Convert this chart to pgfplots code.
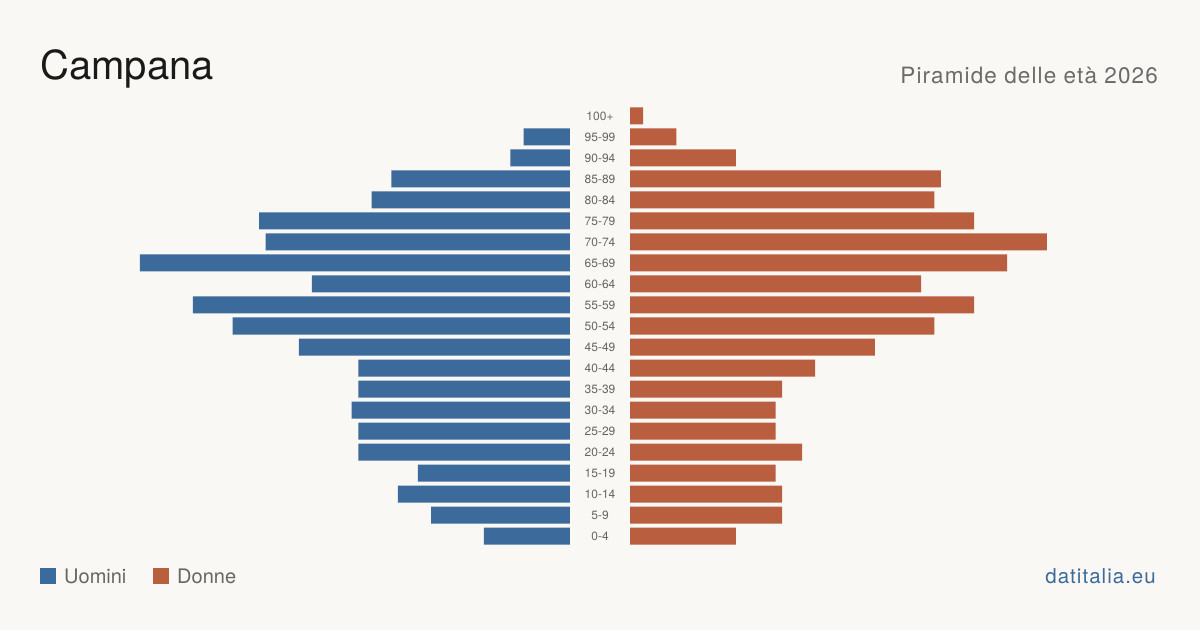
\documentclass[border=0pt]{standalone}
\usepackage{fontspec}
\setmainfont{TeX Gyre Heros}
\usepackage{pgfplots}
\pgfplotsset{compat=1.18}
\definecolor{bg}{HTML}{F9F8F4}
\definecolor{uomini}{HTML}{3B6A9B}
\definecolor{donne}{HTML}{B95E3E}
\definecolor{titlec}{HTML}{1A1A1A}
\definecolor{subc}{HTML}{6B6B6B}
\definecolor{labc}{HTML}{666666}
\begin{document}
\begin{tikzpicture}[x=1pt,y=1pt]
\fill[bg] (0,0) rectangle (1200,630);
\begin{axis}[at={(140pt,83.5pt)}, anchor=south west, scale only axis,
  width=430pt, height=441pt, xmin=0, xmax=65, x dir=reverse,
  ymin=-0.5, ymax=20.5, hide axis, xbar, bar width=17pt]
\addplot[fill=uomini, draw=none] coordinates {
(13,0) (21,1) (26,2) (23,3) (32,4) (32,5) (33,6) (32,7) (32,8) (41,9)
(51,10) (57,11) (39,12) (65,13) (46,14) (47,15) (30,16) (27,17) (9,18) (7,19)};
\end{axis}
\begin{axis}[at={(630pt,83.5pt)}, anchor=south west, scale only axis,
  width=430pt, height=441pt, xmin=0, xmax=65,
  ymin=-0.5, ymax=20.5, hide axis, xbar, bar width=17pt]
\addplot[fill=donne, draw=none] coordinates {
(16,0) (23,1) (23,2) (22,3) (26,4) (22,5) (22,6) (23,7) (28,8) (37,9)
(46,10) (52,11) (44,12) (57,13) (63,14) (52,15) (46,16) (47,17) (16,18) (7,19) (2,20)};
\end{axis}
\foreach \l [count=\i from 0] in {0-4,5-9,10-14,15-19,20-24,25-29,30-34,35-39,40-44,45-49,50-54,55-59,60-64,65-69,70-74,75-79,80-84,85-89,90-94,95-99,100+}
  \node[anchor=base, inner sep=0pt, text=labc, font=\fontsize{12}{14}\selectfont] at (600, 89.7+21*\i) {\l};
\node[anchor=base west, inner sep=0pt, text=titlec, font=\fontsize{40}{46}\selectfont] at (40,550) {Campana};
\node[anchor=base east, inner sep=0pt, text=subc, font=\fontsize{22.5}{26}\selectfont\addfontfeatures{LetterSpace=5}] at (1158,546) {Piramide delle età 2026};
\fill[uomini] (40,46) rectangle (56,62);
\node[anchor=base west, inner sep=0pt, text=labc, font=\fontsize{20}{24}\selectfont] at (64,47) {Uomini};
\fill[donne] (153,46) rectangle (169,62);
\node[anchor=base west, inner sep=0pt, text=labc, font=\fontsize{20}{24}\selectfont] at (177,47) {Donne};
\node[anchor=base east, inner sep=0pt, text=uomini, font=\fontsize{20.5}{24}\selectfont\addfontfeatures{LetterSpace=5}] at (1156,47) {datitalia.eu};
\end{tikzpicture}
\end{document}
